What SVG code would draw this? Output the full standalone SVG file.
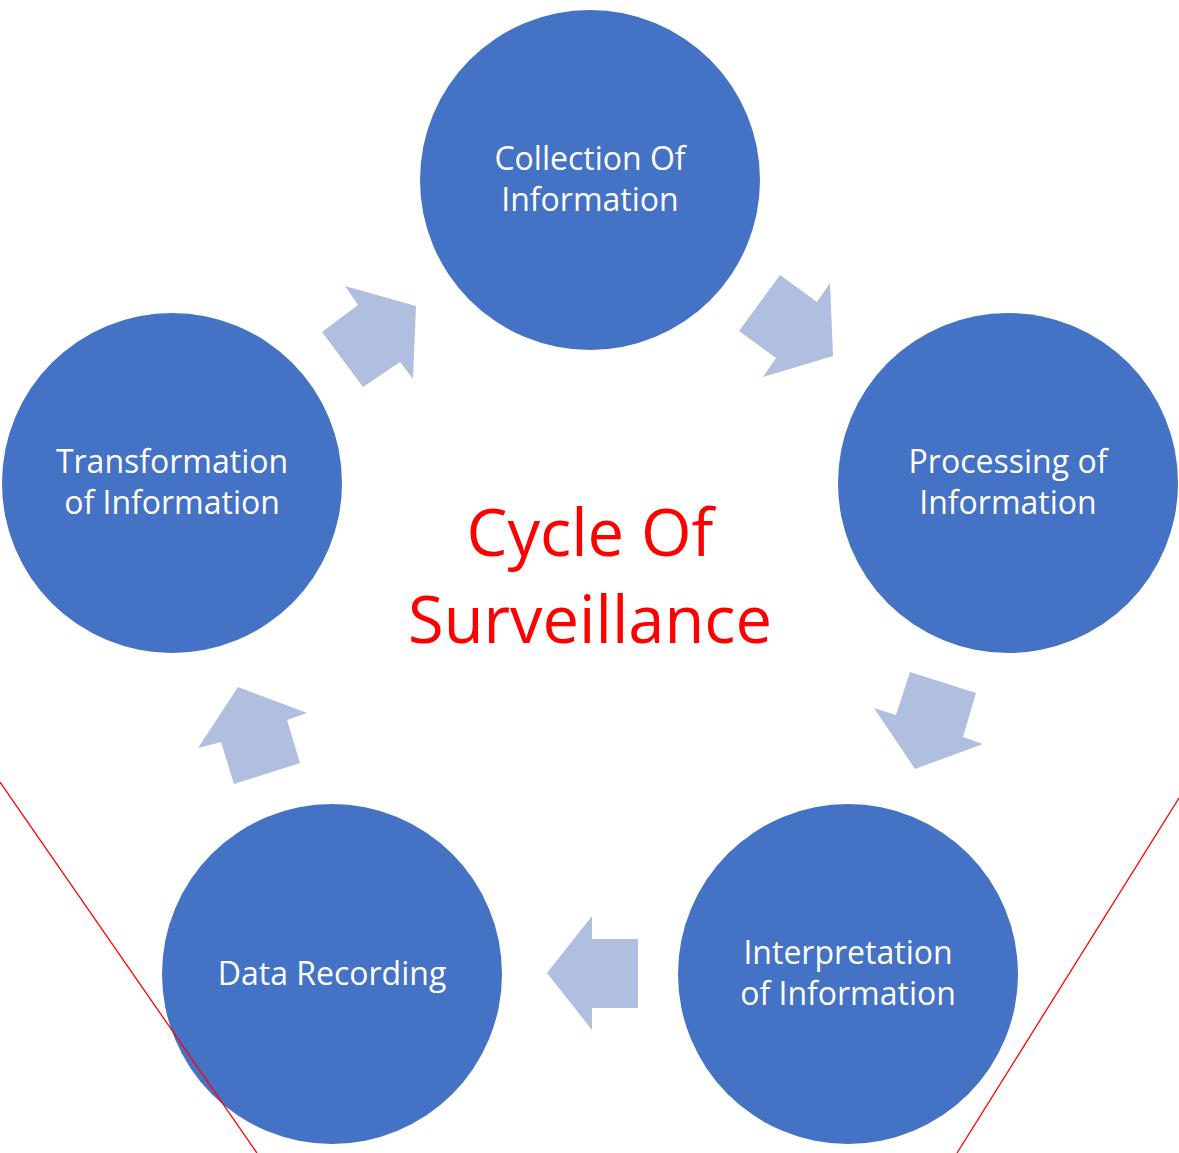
<svg xmlns="http://www.w3.org/2000/svg" width="1179" height="1153" viewBox="0 0 1179 1153">
  <style>
    .node circle { fill: #4472C4; }
    .node text { fill: #FFFFFF; font-family: "Open Sans", "Noto Sans", sans-serif; font-size: 32px; text-anchor: middle; }
    .arrow { fill: #B0BEDF; }
    .title { fill: #FF0000; font-family: "Open Sans", "Noto Sans", sans-serif; font-size: 65px; text-anchor: middle; }
    .guide { stroke: #FF0000; stroke-width: 1.3; fill: none; }
  </style>
  <rect width="1179" height="1153" fill="#FFFFFF"/>

  <!-- block arrows between the stages -->
  <g id="connectors">
    <polygon class="arrow" points="322,332 358,305 345,286 416,306 413,379 400,362 363,387"/>
    <polygon class="arrow" points="739,331 780,275 817,302 830,283 833,356 763,377 776,358"/>
    <polygon class="arrow" points="910,672 976,693 963,737 983,744 915,769 874,708 896,715"/>
    <polygon class="arrow" points="547,973 592,916 592,939 638,939 638,1008 592,1008 592,1030"/>
    <polygon class="arrow" points="238,687 307,713 287,720 300,763 234,784 221,742 198,748"/>
  </g>

  <g id="collection" class="node">
    <circle cx="590" cy="180" r="170"/>
    <text x="590" y="170">Collection Of</text>
    <text x="590" y="211">Information</text>
  </g>

  <g id="processing" class="node">
    <circle cx="1008" cy="483" r="170"/>
    <text x="1008" y="473">Processing of</text>
    <text x="1008" y="514">Information</text>
  </g>

  <g id="interpretation" class="node">
    <circle cx="848" cy="974" r="170"/>
    <text x="848" y="964">Interpretation</text>
    <text x="848" y="1005">of Information</text>
  </g>

  <g id="recording" class="node">
    <circle cx="332" cy="974" r="170"/>
    <text x="332" y="985">Data Recording</text>
  </g>

  <g id="transformation" class="node">
    <circle cx="172" cy="483" r="170"/>
    <text x="172" y="473">Transformation</text>
    <text x="172" y="514">of Information</text>
  </g>

  <g id="title">
    <text class="title" x="590" y="556">Cycle Of</text>
    <text class="title" x="590" y="643">Surveillance</text>
  </g>

  <!-- red guide lines -->
  <line class="guide" x1="0" y1="782" x2="257" y2="1153"/>
  <line class="guide" x1="1179" y1="798" x2="957" y2="1153"/>
</svg>
